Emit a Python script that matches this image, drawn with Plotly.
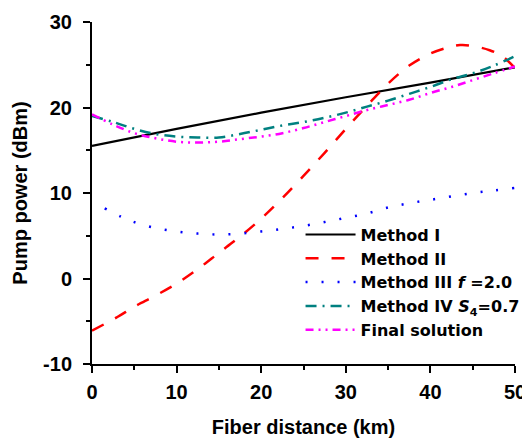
import plotly.graph_objects as go

# Data
x_m1 = [0, 10, 20, 30, 40, 50]
y_m1 = [15.5, 17.5, 19.4, 21.2, 22.9, 24.7]

x_m2 = [0, 3, 5, 7.5, 10, 12.5, 15, 17.5, 20, 22.5, 25, 27.5, 30, 32.5, 35, 37.5, 40, 42, 43.5, 45, 47, 48.5, 50]
y_m2 = [-6.1, -4.5, -3.3, -2.0, -0.6, 1.1, 3.0, 4.9, 7.0, 9.4, 12.0, 14.7, 17.5, 20.2, 22.8, 24.9, 26.3, 27.0, 27.3, 27.2, 26.7, 26.0, 24.6]

x_m3 = [1.5, 3.5, 5, 7.5, 10, 12.5, 15, 17.5, 20, 22.5, 25, 27.5, 30, 32.5, 35, 37.5, 40, 42.5, 45, 47.5, 50]
y_m3 = [8.2, 7.2, 6.6, 5.9, 5.5, 5.25, 5.15, 5.25, 5.5, 5.8, 6.15, 6.6, 7.1, 7.6, 8.3, 8.8, 9.2, 9.6, 10.0, 10.3, 10.6]

x_m4 = [0, 2.5, 5, 7.5, 10, 12.5, 15, 17.5, 20, 22.5, 25, 27.5, 30, 32.5, 35, 37.5, 40, 42.5, 45, 47.5, 50]
y_m4 = [19.0, 18.3, 17.5, 16.9, 16.6, 16.5, 16.5, 16.9, 17.4, 17.9, 18.3, 18.8, 19.4, 20.1, 20.8, 21.6, 22.4, 23.3, 24.0, 24.9, 26.0]

x_fs = [0, 2.5, 5, 7.5, 10, 12.5, 15, 17.5, 20, 22.5, 25, 27.5, 30, 32.5, 35, 37.5, 40, 42.5, 45, 47.5, 50]
y_fs = [19.2, 18.0, 17.0, 16.4, 16.0, 15.9, 16.0, 16.3, 16.6, 17.0, 17.6, 18.3, 19.0, 19.7, 20.3, 20.9, 21.7, 22.4, 23.2, 24.0, 24.8]

names = ["Method I", "Method II", "Method III <i>f</i> =2.0",
         "Method IV <i>S</i><sub>4</sub>=0.7", "Final solution"]

x_ticks = [0, 10, 20, 30, 40, 50]
x_tick_labels = ["0", "10", "20", "30", "40", "50"]
y_ticks = [-10, 0, 10, 20, 30]
y_tick_labels = ["-10", "0", "10", "20", "30"]

FONT = "Liberation Sans, Arial, sans-serif"
LEG_FONT = "DejaVu Sans, Liberation Sans, Arial, sans-serif"

fig = go.Figure()
fig.add_trace(go.Scatter(x=x_m1, y=y_m1, mode="lines", name=names[0],
                         line=dict(color="black", width=2.2)))
fig.add_trace(go.Scatter(x=x_m2, y=y_m2, mode="lines", name=names[1], line_shape="spline",
                         line=dict(color="#ff0000", width=2.5, dash="13px,13px")))
fig.add_trace(go.Scatter(x=x_m3, y=y_m3, mode="lines", name=names[2], line_shape="spline",
                         line=dict(color="#0000ff", width=2.5, dash="2px,14px")))
fig.add_trace(go.Scatter(x=x_m4, y=y_m4, mode="lines", name=names[3], line_shape="spline",
                         line=dict(color="#008080", width=2.5, dash="11px,6px,2px,6px")))
fig.add_trace(go.Scatter(x=x_fs, y=y_fs, mode="lines", name=names[4], line_shape="spline",
                         line=dict(color="#ff00ff", width=2.5, dash="8px,5px,2px,5px,2px,5px")))

axis_common = dict(
    showline=True, linecolor="black", linewidth=2, mirror=False,
    ticks="outside", ticklen=7, tickwidth=2, tickcolor="black",
    showgrid=False, zeroline=False,
    tickfont=dict(family=FONT, size=20, color="black", weight="bold"),
)

fig.update_xaxes(range=[0, 50], tickvals=x_ticks, ticktext=x_tick_labels, ticklabelstandoff=2,
                 minor=dict(dtick=5, ticks="outside", ticklen=4, tickwidth=2, tickcolor="black"),
                 title=dict(text="Fiber distance (km)",
                            font=dict(family=FONT, size=20, color="black", weight="bold"),
                            standoff=20),
                 **axis_common)
fig.update_yaxes(range=[-10, 30], tickvals=y_ticks, ticktext=y_tick_labels, ticklabelstandoff=7,
                 minor=dict(dtick=5, ticks="outside", ticklen=4, tickwidth=2, tickcolor="black"),
                 title=dict(text="Pump power (dBm)",
                            font=dict(family=FONT, size=20, color="black", weight="bold"),
                            standoff=10),
                 **axis_common)

fig.update_layout(
    width=522, height=430,
    margin=dict(l=84, r=15, t=14, b=74, autoexpand=False),
    plot_bgcolor="white", paper_bgcolor="white",
    legend=dict(x=0.493, y=0.428, xanchor="left", yanchor="top",
                bgcolor="rgba(0,0,0,0)", borderwidth=0,
                font=dict(family=LEG_FONT, size=16, color="black", weight="bold"),
                itemwidth=50, tracegroupgap=0),
    showlegend=True,
)

fig.write_html("out.html")
